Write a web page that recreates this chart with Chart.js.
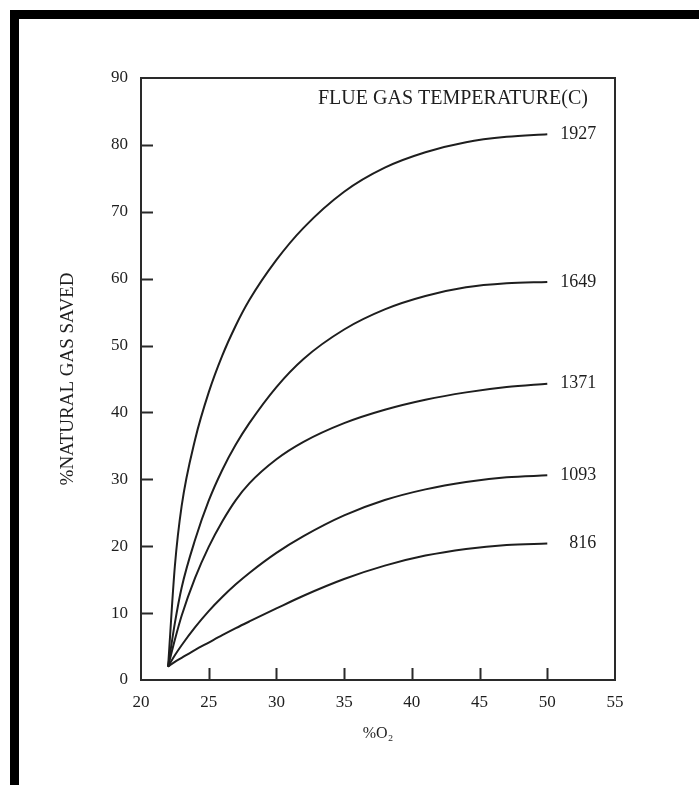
<!DOCTYPE html>
<html>
<head>
<meta charset="utf-8">
<title>Natural gas saved vs %O2</title>
<script src="https://cdn.jsdelivr.net/npm/chart.js@4"></script>
<style>
  html, body { margin: 0; padding: 0; background: #fff; }
  .page { position: relative; width: 699px; height: 785px; overflow: hidden; background: #fff; }
  .bar-top { position: absolute; left: 10px; top: 10px; width: 689px; height: 9px; background: #000; }
  .bar-left { position: absolute; left: 10px; top: 10px; width: 9px; height: 775px; background: #000; }
  canvas { position: absolute; left: 0; top: 0; }
</style>
</head>
<body>
<div class="page">
  <div class="bar-top"></div>
  <div class="bar-left"></div>
  <canvas id="chart" width="699" height="785"></canvas>
</div>
<script>
// %O2 in the combustion air (x positions shared by every curve)
const oxygen = [22, 22.5, 23, 24, 25, 26, 27, 28, 30, 32, 35, 38, 41, 44, 47, 50];

// flue gas temperatures (C), one curve each
const temperatures = ['1927', '1649', '1371', '1093', '816'];

// % natural gas saved
const saved1927 = [2, 17, 26, 36, 43, 48.5, 53, 56.8, 62.8, 67.6, 73, 76.6, 78.9, 80.4, 81.2, 81.6];
const saved1649 = [2, 8.5, 13.8, 21, 26.8, 31.4, 35.2, 38.4, 43.8, 48, 52.4, 55.4, 57.4, 58.7, 59.3, 59.5];
const saved1371 = [2, 6, 9.6, 15.3, 19.9, 23.7, 26.9, 29.4, 33, 35.6, 38.4, 40.4, 41.9, 43, 43.8, 44.3];
const saved1093 = [2, 3.7, 5.2, 7.9, 10.3, 12.4, 14.3, 16, 19, 21.5, 24.6, 26.9, 28.5, 29.6, 30.3, 30.6];
const saved816 = [2, 2.7, 3.3, 4.5, 5.6, 6.7, 7.75, 8.75, 10.7, 12.6, 15.1, 17.1, 18.6, 19.6, 20.2, 20.4];

const xTicks = { min: 20, max: 55, step: 5 };
const yTicks = { min: 0, max: 90, step: 10 };

const INK = '#1e1e1e';
const SERIF = '"Liberation Serif", "Times New Roman", serif';
const TICK_LEN = 12;

const series = [saved1927, saved1649, saved1371, saved1093, saved816];

/**
 * Frame, inward tick marks, curve labels and the in-plot caption
 */
const frameAndLabels = {
  id: 'frameAndLabels',
  afterDatasetsDraw(chart) {
    const { ctx, chartArea: a, scales: { x, y } } = chart;
    ctx.save();

    ctx.strokeStyle = '#2a2a2a';
    ctx.lineWidth = 2;
    ctx.strokeRect(a.left, a.top, a.right - a.left, a.bottom - a.top);

    // tick marks point into the plot
    ctx.beginPath();
    x.ticks.forEach(t => {
      if (t.value <= x.min || t.value >= x.max) return;
      const px = Math.round(x.getPixelForValue(t.value)) + 0.5;
      ctx.moveTo(px, a.bottom);
      ctx.lineTo(px, a.bottom - TICK_LEN);
    });
    y.ticks.forEach(t => {
      if (t.value <= y.min || t.value >= y.max) return;
      const py = Math.round(y.getPixelForValue(t.value)) + 0.5;
      ctx.moveTo(a.left, py);
      ctx.lineTo(a.left + TICK_LEN, py);
    });
    ctx.stroke();

    // temperature label at the end of each curve
    ctx.fillStyle = INK;
    ctx.font = `18px ${SERIF}`;
    ctx.textAlign = 'right';
    ctx.textBaseline = 'middle';
    chart.data.datasets.forEach(ds => {
      const last = ds.data[ds.data.length - 1];
      ctx.fillText(ds.label, x.getPixelForValue(last.x) + 49, y.getPixelForValue(last.y));
    });

    ctx.font = `20px ${SERIF}`;
    ctx.fillText('FLUE GAS TEMPERATURE(C)', a.right - 27, a.top + 21);
    ctx.restore();
  }
};

const datasets = temperatures.map((label, i) => ({
  label,
  data: oxygen.map((o, j) => ({ x: o, y: series[i][j] })),
  borderColor: INK,
  borderWidth: 2,
  pointRadius: 0,
  fill: false,
  cubicInterpolationMode: 'monotone'
}));

Chart.defaults.font.family = SERIF;
Chart.defaults.color = INK;

new Chart(document.getElementById('chart'), {
  type: 'line',
  data: { datasets },
  options: {
    responsive: false,
    animation: false,
    layout: { padding: { left: 0, top: 78, right: 84, bottom: 0 } },
    plugins: {
      legend: { display: false },
      tooltip: { enabled: false }
    },
    scales: {
      x: {
        type: 'linear',
        min: xTicks.min,
        max: xTicks.max,
        afterFit: scale => { scale.height = 105; },
        grid: { display: false, drawTicks: false },
        border: { display: false },
        ticks: { stepSize: xTicks.step, padding: 12, font: { size: 17 }, color: INK },
        title: {
          display: true,
          text: '%O\u2082',
          font: { size: 16 },
          color: INK,
          padding: { top: 0, bottom: 42 }
        }
      },
      y: {
        min: yTicks.min,
        max: yTicks.max,
        afterFit: scale => { scale.width = 141; },
        grid: { display: false, drawTicks: false },
        border: { display: false },
        ticks: { stepSize: yTicks.step, padding: 13, font: { size: 17 }, color: INK },
        title: {
          display: true,
          text: '%NATURAL GAS SAVED',
          font: { size: 19 },
          color: INK,
          padding: { top: 57, bottom: 0 }
        }
      }
    }
  },
  plugins: [frameAndLabels]
});
</script>
</body>
</html>
